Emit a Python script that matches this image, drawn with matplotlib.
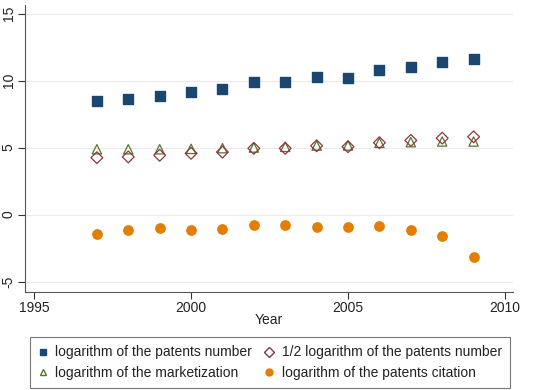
import matplotlib
matplotlib.use("Agg")
import matplotlib.pyplot as plt
from matplotlib.lines import Line2D

plt.rcParams['font.family'] = ['Liberation Sans', 'DejaVu Sans']

# data
years = [1997, 1998, 1999, 2000, 2001, 2002, 2003, 2004, 2005, 2006, 2007, 2008, 2009]
log_patents = [8.47, 8.60, 8.82, 9.17, 9.34, 9.91, 9.86, 10.24, 10.19, 10.76, 11.00, 11.36, 11.63]
half_log_patents = [4.24, 4.30, 4.42, 4.57, 4.66, 4.94, 4.94, 5.13, 5.06, 5.36, 5.53, 5.70, 5.80]
log_market = [4.87, 4.87, 4.87, 4.90, 4.95, 5.00, 5.05, 5.15, 5.15, 5.35, 5.40, 5.45, 5.45]
log_citation = [-1.46, -1.13, -0.98, -1.18, -1.06, -0.76, -0.76, -0.91, -0.93, -0.86, -1.18, -1.58, -3.19]

xticks = [1995, 2000, 2005, 2010]
yticks = [-5, 0, 5, 10, 15]

navy = '#1a476f'
maroon = '#90353b'
olive = '#55752f'
orange = '#e37e00'

fig = plt.figure(figsize=(5.5, 3.9), dpi=100)
ax = fig.add_axes([0.046, 0.252, 0.887, 0.735])

ax.scatter(years, log_patents, marker='s', s=45, color=navy, zorder=3)
ax.scatter(years, log_market, marker='^', s=45, facecolors='none', edgecolors=olive, linewidths=0.9, zorder=3)
ax.scatter(years, half_log_patents, marker='D', s=36, facecolors='none', edgecolors=maroon, linewidths=0.9, zorder=3)
ax.scatter(years, log_citation, marker='o', s=45, color=orange, zorder=3)

ax.set_xlim(1994.72, 2010.26)
ax.set_ylim(-5.76, 15.63)
ax.set_xticks(xticks)
ax.set_yticks(yticks)
ax.set_yticklabels([str(t) for t in yticks], rotation=90, va='center')
ax.tick_params(labelsize=10, color='#333333', labelcolor='#222222', length=5, width=0.8, pad=2)
ax.grid(axis='y', color='#eaeaea', linewidth=0.8)
ax.set_axisbelow(True)
for side in ['top', 'right']:
    ax.spines[side].set_visible(False)
for side in ['left', 'bottom']:
    ax.spines[side].set_color('#555555')
    ax.spines[side].set_linewidth(0.8)
ax.set_xlabel('Year', fontsize=10, labelpad=-2, color='#222222')

handles = [
    Line2D([], [], linestyle='none', marker='s', markersize=5, color=navy),
    Line2D([], [], linestyle='none', marker='^', markersize=5, markerfacecolor='none', markeredgecolor=olive),
    Line2D([], [], linestyle='none', marker='D', markersize=5, markerfacecolor='none', markeredgecolor=maroon),
    Line2D([], [], linestyle='none', marker='o', markersize=5, color=orange),
]
labels = ['logarithm of the patents number', 'logarithm of the marketization',
          '1/2 logarithm of the patents number', 'logarithm of the patents citation']
leg = fig.legend(handles, labels, ncol=2, loc='lower left', bbox_to_anchor=(0.055, 0.005, 0.873, 0.128),
                 mode='expand', borderaxespad=0, fontsize=10, frameon=True, fancybox=False,
                 edgecolor='#555555', handlelength=0.6, handletextpad=0.6, columnspacing=1.0,
                 labelspacing=0.45, borderpad=0.6)
leg.get_frame().set_linewidth(0.8)
for t in leg.get_texts():
    t.set_color('#222222')

fig.savefig('out.png', dpi=100)
